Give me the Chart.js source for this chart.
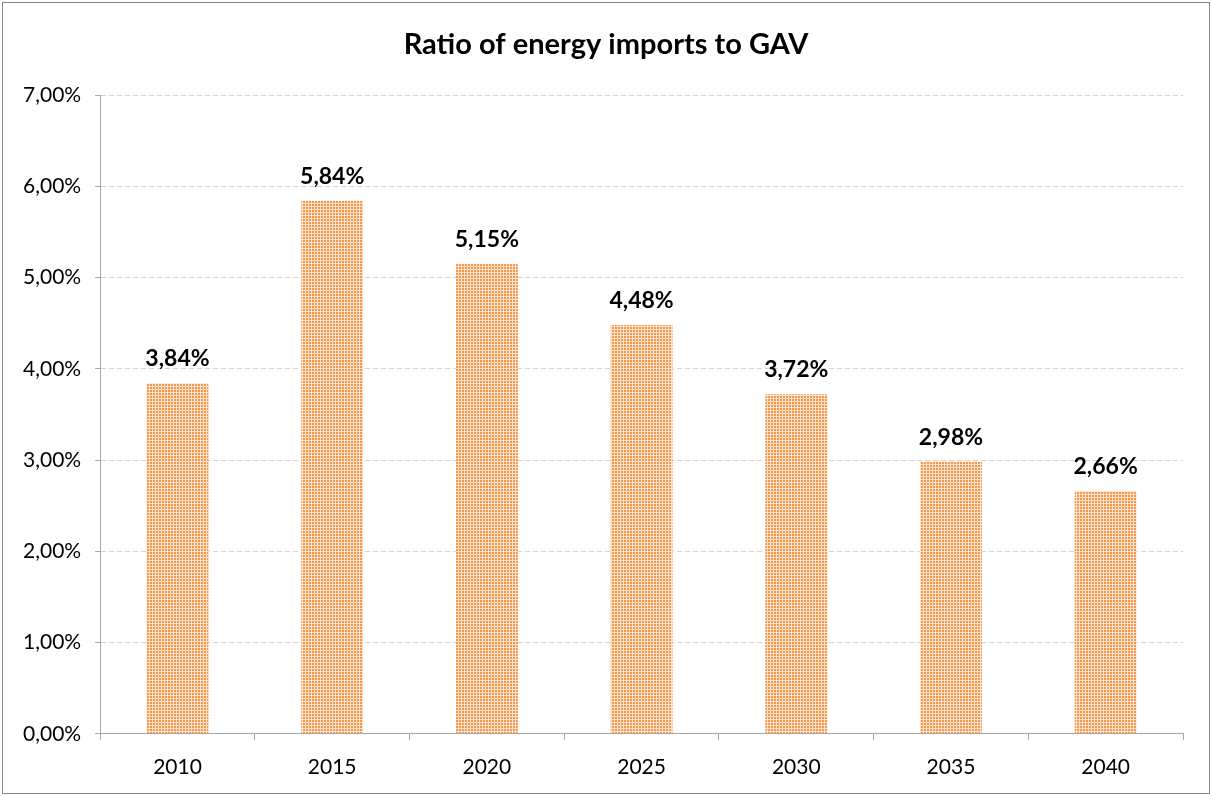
<!DOCTYPE html>
<html>
<head>
<meta charset="utf-8">
<script src="https://cdn.jsdelivr.net/npm/chart.js@4"></script>
<style>
  body { margin: 0; background: #fff; }
  #wrap { width: 1212px; height: 796px; position: relative; }
</style>
</head>
<body>
<div id="wrap"><canvas id="chart"></canvas></div>
<script>
// datos del grafico
const titulo = "Ratio of energy imports to GAV";
const anios = ["2010", "2015", "2020", "2025", "2030", "2035", "2040"];
const valores = [3.84, 5.84, 5.15, 4.48, 3.72, 2.98, 2.66];

const naranja = "#F79646";

// patron a cuadritos para las barras
const hacerPatron = () => {
  const c = document.createElement("canvas");
  c.width = 3;
  c.height = 3;
  const g = c.getContext("2d");
  g.fillStyle = "#fde3cd";
  g.fillRect(0, 0, 3, 3);
  g.fillStyle = naranja;
  g.fillRect(0, 0, 2, 2);
  return document.getElementById("chart").getContext("2d").createPattern(c, "repeat");
};

const fmt = v => v.toFixed(2).replace(".", ",") + "%";

const marcoYTitulo = {
  id: "marcoYTitulo",
  beforeDraw(chart) {
    const ctx = chart.ctx;
    ctx.save();
    ctx.fillStyle = "#fff";
    ctx.fillRect(0, 0, chart.width, chart.height);
    ctx.strokeStyle = "#868686";
    ctx.lineWidth = 1;
    ctx.strokeRect(2.5, 2.5, chart.width - 5, chart.height - 5);
    ctx.fillStyle = "#000";
    ctx.font = "bold 29px Lato";
    ctx.textAlign = "center";
    ctx.textBaseline = "middle";
    ctx.fillText(titulo, chart.width / 2, 45);
    ctx.restore();
  }
};

const etiquetas = {
  id: "etiquetas",
  afterDatasetsDraw(chart) {
    const ctx = chart.ctx;
    const meta = chart.getDatasetMeta(0);
    ctx.save();
    ctx.fillStyle = "#000";
    ctx.font = "bold 23px Lato";
    ctx.textAlign = "center";
    ctx.textBaseline = "bottom";
    meta.data.forEach((bar, i) => {
      ctx.fillText(fmt(valores[i]), bar.x, bar.y - 13);
    });
    ctx.restore();
  }
};

const canvas = document.getElementById("chart").getContext("2d");

const config = {
  type: "bar",
  data: {
    labels: anios,
    datasets: [
      {
        label: titulo,
        data: valores,
        backgroundColor: hacerPatron(),
        borderWidth: 0,
        barPercentage: 0.4,
        categoryPercentage: 1
      }
    ]
  },
  options: {
    responsive: false,
    animation: false,
    devicePixelRatio: 1,
    layout: { padding: { top: 95, left: 9, right: 29, bottom: 1 } },
    plugins: {
      legend: { display: false },
      title: { display: false },
      tooltip: { enabled: false }
    },
    scales: {
      x: {
        offset: true,
        grid: {
          display: true,
          offset: true,
          drawOnChartArea: false,
          drawTicks: true,
          tickLength: 6,
          color: "#a6a6a6"
        },
        border: { display: true, color: "#a6a6a6", width: 1 },
        ticks: {
          color: "#000",
          font: { family: "Lato", size: 21 },
          padding: 15
        }
      },
      y: {
        min: 0,
        max: 7,
        grid: {
          color: "#d4d4d4",
          tickLength: 5,
          tickColor: "#a6a6a6"
        },
        border: { display: true, color: "#a6a6a6", width: 1, dash: [5, 3] },
        ticks: {
          stepSize: 1,
          color: "#000",
          font: { family: "Lato", size: 21 },
          padding: 14,
          callback: v => fmt(v)
        }
      }
    }
  },
  plugins: [marcoYTitulo, etiquetas]
};

document.getElementById("chart").width = 1212;
document.getElementById("chart").height = 796;
const chart = new Chart(canvas, config);
</script>
</body>
</html>
